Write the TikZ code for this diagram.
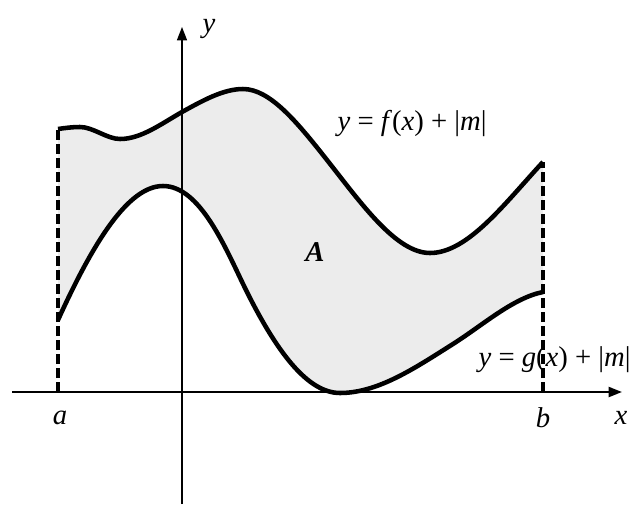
\documentclass[tikz,border=0pt]{standalone}
\usepackage{fontspec}
\setmainfont{Liberation Serif}
\usepackage{tikz}
\usetikzlibrary{arrows.meta}

\newcommand{\mi}[1]{\textit{#1}}
% upper curve f and lower curve g, as open paths
\newcommand{\fpath}{(58,129) .. controls (65,128) and (72,127) .. (80,127)
  .. controls (93,127) and (107,139) .. (120,139)
  .. controls (141,139) and (161,124) .. (182,112)
  .. controls (202,101) and (223,89) .. (243,89)
  .. controls (270,89) and (297,122) .. (327,160)
  .. controls (361,203) and (396,253) .. (430,253)
  .. controls (468,253) and (505,203) .. (543,162)}
\newcommand{\gpath}{(58,320) .. controls (93,243) and (128,186) .. (163,186)
  .. controls (200,186) and (225,247) .. (245,288)
  .. controls (277,353) and (308,393) .. (340,393)
  .. controls (378,393) and (415,368) .. (453,344)
  .. controls (483,325) and (513,298) .. (543,292)}

\begin{document}
\begin{tikzpicture}[
    x=0.75pt, y=-0.75pt,
    font=\fontsize{21.5}{24}\selectfont,
    curve/.style={line width=3.4pt, line join=round},
    axis/.style={-{Triangle[length=10pt, width=7.5pt]}},
    bound/.style={dashed, line width=2.8pt, dash pattern=on 7.5pt off 3pt},
    lbl/.style={inner sep=1pt}
]
\useasboundingbox (0,0) rectangle (640,508);

% Region between the curves
\fill[gray!15] \fpath -- (543,292)
  .. controls (513,298) and (483,325) .. (453,344)
  .. controls (415,368) and (378,393) .. (340,393)
  .. controls (308,393) and (277,353) .. (245,288)
  .. controls (225,247) and (200,186) .. (163,186)
  .. controls (128,186) and (93,243) .. (58,320) -- cycle;

% Axes
\coordinate (xs) at (12,392);
\coordinate (xe) at (622,392);
\coordinate (ys) at (182,504);
\coordinate (ye) at (182,27);
\draw[axis, line width=1.5pt] (xs) -- (xe);
\draw[axis, line width=1.1pt] (ys) -- (ye);

% Bounds a and b
\coordinate (a0) at (58,392);
\coordinate (a1) at (58,129);
\coordinate (b0) at (543,392);
\coordinate (b1) at (543,162);
\draw[bound] (a0) -- (a1);
\draw[bound] (b0) -- (b1);

% Curves
\draw[curve] \fpath;
\draw[curve] \gpath;

% Labels
\node[lbl] (ylbl) at (209,29) {\mi{y}};
\node[lbl] (xlbl) at (621,418) {\mi{x}};
\node[lbl] (albl) at (60,418) {\mi{a}};
\node[lbl] (blbl) at (543,418) {\mi{b}};
\node[lbl] (area) at (315,252) {\textbf{\textit{A}}};
\node[lbl, anchor=west] (flbl) at (336,123) {\mi{y} = \mi{f}(\mi{x}) + |\mi{m}|};
\node[lbl, anchor=west] (glbl) at (477,360) {\mi{y} = \mi{g}(\mi{x}) + |\mi{m}|};
\end{tikzpicture}
\end{document}
